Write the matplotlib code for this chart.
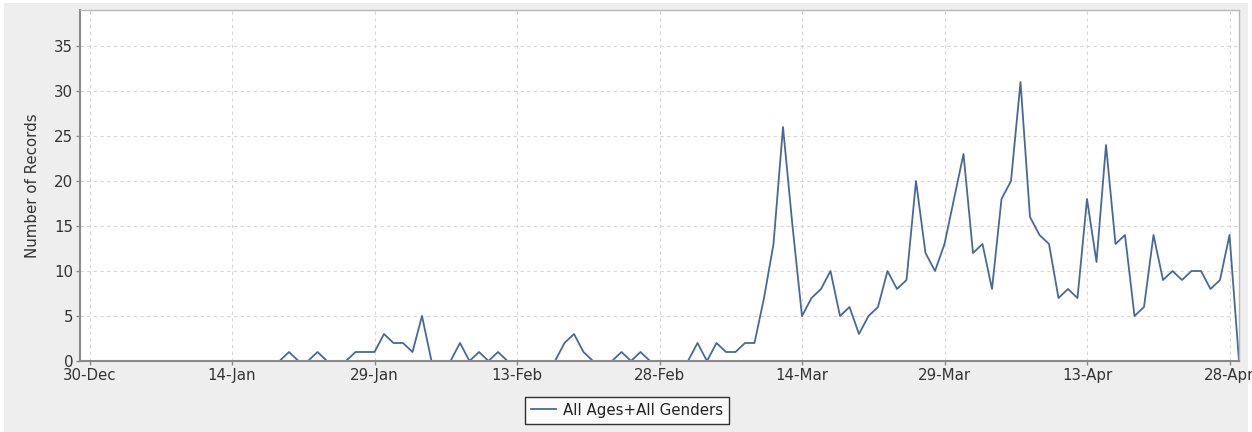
import matplotlib
matplotlib.use("Agg")
import matplotlib.pyplot as plt
import matplotlib.dates as mdates
from matplotlib.patches import Rectangle
import pandas as pd

start_date = "2019-12-29"
records = [
    0, 0, 0, 0, 0, 0, 0, 0, 0, 0,   # 29-Dec .. 07-Jan
    0, 0, 0, 0, 0, 0, 0, 0, 0, 0,   # 08-Jan .. 17-Jan
    0, 0, 1, 0, 0, 1, 0, 0, 0, 1,   # 18-Jan .. 27-Jan
    1, 1, 3, 2, 2, 1, 5, 0, 0, 0,   # 28-Jan .. 06-Feb
    2, 0, 1, 0, 1, 0, 0, 0, 0, 0,   # 07-Feb .. 16-Feb
    0, 2, 3, 1, 0, 0, 0, 1, 0, 1,   # 17-Feb .. 26-Feb
    0, 0, 0, 0, 0, 2, 0, 2, 1, 1,   # 27-Feb .. 07-Mar
    2, 2, 7, 13, 26, 15, 5, 7, 8, 10,   # 08-Mar .. 17-Mar
    5, 6, 3, 5, 6, 10, 8, 9, 20, 12,  # 18-Mar .. 27-Mar
    10, 13, 18, 23, 12, 13, 8, 18, 20, 31,  # 28-Mar .. 06-Apr
    16, 14, 13, 7, 8, 7, 18, 11, 24, 13,  # 07-Apr .. 16-Apr
    14, 5, 6, 14, 9, 10, 9, 10, 10, 8,  # 17-Apr .. 26-Apr
    9, 14, 0,                            # 27-Apr .. 29-Apr
]
dates = pd.date_range(start_date, periods=len(records), freq="D")
tick_dates = pd.date_range("2019-12-30", "2020-04-28", freq="15D")
y_ticks = [0, 5, 10, 15, 20, 25, 30, 35]
series_label = "All Ages+All Genders"
y_label = "Number of Records"

fig = plt.figure(figsize=(12.52, 4.32), dpi=100)
fig.patch.set_facecolor("white")
fig.add_artist(Rectangle((4 / 1252, 0), 1244 / 1252, 429 / 432,
                         transform=fig.transFigure, facecolor="#eeeeee",
                         edgecolor="none", zorder=-10))

ax = fig.add_axes([80 / 1252, 71 / 432, 1159 / 1252, 351 / 432])
ax.set_facecolor("white")
ax.plot(dates, records, color="#47699a", linewidth=1.3, label=series_label)

ax.set_xlim(dates[0], dates[-1])
ax.set_ylim(0, 39)
ax.set_yticks(y_ticks)
ax.set_xticks(tick_dates)
ax.xaxis.set_major_formatter(mdates.DateFormatter("%d-%b"))

ax.grid(True, color="#d8d8d8", linestyle=(0, (3, 3)), linewidth=0.8)
ax.set_axisbelow(True)
for side in ["top", "right"]:
    ax.spines[side].set_color("#b8b8b8")
    ax.spines[side].set_linewidth(1.0)
for side in ["left", "bottom"]:
    ax.spines[side].set_color("#8a8a8a")
    ax.spines[side].set_linewidth(1.5)
ax.tick_params(axis="both", direction="out", length=3, width=1,
               color="#8a8a8a", labelsize=10.8, labelcolor="#333333", pad=2)
ax.set_ylabel(y_label, fontsize=10.8, color="#333333", labelpad=10)

leg = fig.legend(loc="center", bbox_to_anchor=(627 / 1252, 1 - 410 / 432),
                 frameon=True, fancybox=False, fontsize=10.8,
                 handlelength=1.7, handletextpad=0.45, borderpad=0.4,
                 borderaxespad=0)
leg.get_frame().set_edgecolor("black")
leg.get_frame().set_linewidth(1.0)
for t in leg.get_texts():
    t.set_color("#222222")

fig.savefig("out.png", dpi=100, facecolor=fig.get_facecolor())
